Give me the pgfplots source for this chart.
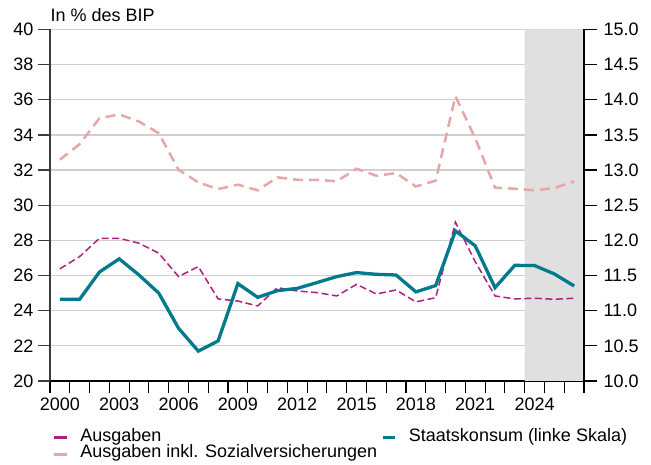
\documentclass[border=0pt]{standalone}
\usepackage{pgfplots}
\pgfplotsset{compat=1.18}
\usepackage{fontspec}
\setmainfont{Liberation Sans}
\definecolor{tealc}{RGB}{0,122,140}
\definecolor{magc}{RGB}{176,30,128}
\definecolor{pinkc}{RGB}{228,168,168}
\definecolor{gridc}{RGB}{208,208,208}
\definecolor{shadec}{RGB}{224,224,224}
\definecolor{axc}{RGB}{60,60,60}
\begin{document}
\begin{tikzpicture}[x=1pt,y=1pt,font=\fontsize{18}{21}\selectfont]
\path[use as bounding box] (0,0) rectangle (651,465);
\begin{axis}[
  at={(50pt,84pt)}, anchor=south west,
  scale only axis, width=534pt, height=351.5pt,
  xmin=1999.5, xmax=2026.5, ymin=20, ymax=40,
  axis x line*=bottom, axis y line*=left,
  x axis line style={black, line width=1.3pt, -},
  y axis line style={axc, line width=1.3pt, -},
  tick align=outside,
  major tick length=0pt,
  minor tick length=12.5pt,
  xtick={2000,2003,...,2024},
  minor xtick={1999.5,2000.5,...,2026.6},
  ytick={20,22,...,40},
  minor ytick={20,22,...,40},
  xminorgrids=false, yminorgrids=false,
  xtick style={black, line width=1.2pt},
  ytick style={axc, line width=1.2pt},
  ymajorgrids, grid style={gridc, line width=1.2pt},
  xticklabel style={yshift=-13pt},
  yticklabel style={xshift=-13pt},
  /pgf/number format/assume math mode=true,
  xticklabel={\pgfmathprintnumber[fixed,precision=0,1000 sep={}]{\tick}},
  ticklabel style={font=\fontsize{18}{21}\selectfont},
  clip=false,
  legend columns=2,
  legend cell align=left,
  legend style={at={(axis description cs:0.005,-0.137)}, anchor=north west,
    draw=none, fill=none, inner xsep=0pt, inner ysep=0pt,
    font=\fontsize{18}{21}\selectfont,
    nodes={inner ysep=0pt, text height=12pt, text depth=4.6pt},
    /tikz/every even column/.append style={column sep=2pt}},
]
\addplot[fill=shadec, draw=none, forget plot] coordinates {(2023.5,20) (2026.5,20) (2026.5,40) (2023.5,40)} \closedcycle;

\addlegendimage{legend image code/.code={\path[draw=none,fill=none] (0pt,-1pt) rectangle (24pt,1pt); \draw[magc, solid, line width=3pt] (0pt,0pt) -- (12.3pt,0pt);}}
\addlegendentry{Ausgaben}
\addlegendimage{legend image code/.code={\path[draw=none,fill=none] (0pt,-1pt) rectangle (24pt,1pt); \draw[tealc, solid, line width=3.5pt] (0pt,0pt) -- (12.3pt,0pt);}}
\addlegendentry{Staatskonsum (linke Skala)}
\addlegendimage{legend image code/.code={\path[draw=none,fill=none] (0pt,-1pt) rectangle (24pt,1pt); \draw[pinkc, solid, line width=3pt] (0pt,0pt) -- (12.3pt,0pt);}}
\addlegendentry{Ausgaben inkl. Sozialversicherungen}

% Ausgaben inkl. Sozialversicherungen
\addplot[pinkc, line width=2.5pt, dash pattern=on 10pt off 6pt, forget plot] coordinates {
(2000,32.59) (2001,33.48) (2002,34.95) (2003,35.17) (2004,34.76) (2005,34.10)
(2006,32.02) (2007,31.30) (2008,30.92) (2009,31.17) (2010,30.85) (2011,31.59)
(2012,31.45) (2013,31.45) (2014,31.36) (2015,32.08) (2016,31.68) (2017,31.83)
(2018,31.07) (2019,31.40) (2020,36.20) (2021,33.81) (2022,31.00) (2023,30.94)
(2024,30.85) (2025,30.98) (2026,31.35)};

% Ausgaben
\addplot[magc, line width=1.5pt, dash pattern=on 7pt off 3.5pt, forget plot] coordinates {
(2000,26.38) (2001,27.08) (2002,28.12) (2003,28.12) (2004,27.84) (2005,27.27)
(2006,25.94) (2007,26.51) (2008,24.67) (2009,24.55) (2010,24.27) (2011,25.31)
(2012,25.12) (2013,25.03) (2014,24.84) (2015,25.50) (2016,24.95) (2017,25.18)
(2018,24.50) (2019,24.74) (2020,29.03) (2021,26.79) (2022,24.84) (2023,24.67)
(2024,24.71) (2025,24.65) (2026,24.71)};

% Staatskonsum
\addplot[tealc, line width=3.3pt, forget plot] coordinates {
(2000,24.65) (2001,24.65) (2002,26.20) (2003,26.95) (2004,26.03) (2005,25.00)
(2006,23.00) (2007,21.70) (2008,22.28) (2009,25.54) (2010,24.76) (2011,25.14)
(2012,25.27) (2013,25.60) (2014,25.94) (2015,26.17) (2016,26.07) (2017,26.03)
(2018,25.07) (2019,25.43) (2020,28.54) (2021,27.69) (2022,25.31) (2023,26.58)
(2024,26.57) (2025,26.09) (2026,25.41)};
\end{axis}

\begin{axis}[
  at={(50pt,84pt)}, anchor=south west,
  scale only axis, width=534pt, height=351.5pt,
  xmin=1999.5, xmax=2026.5, ymin=10, ymax=15,
  axis x line=none, axis y line*=right,
  y axis line style={black, line width=1.3pt, -},
  tick align=outside,
  major tick length=0pt,
  minor tick length=13pt,
  ytick={10,10.5,...,15},
  minor ytick={10,10.5,...,15},
  ytick style={black, line width=1.2pt},
  /pgf/number format/assume math mode=true,
  yticklabel style={/pgf/number format/fixed, /pgf/number format/fixed zerofill, /pgf/number format/precision=1, xshift=16pt},
  ticklabel style={font=\fontsize{18}{21}\selectfont},
]
\end{axis}
\node[anchor=base west, inner sep=0pt] at (50.5,443) {In \% des BIP};
\end{tikzpicture}
\end{document}
